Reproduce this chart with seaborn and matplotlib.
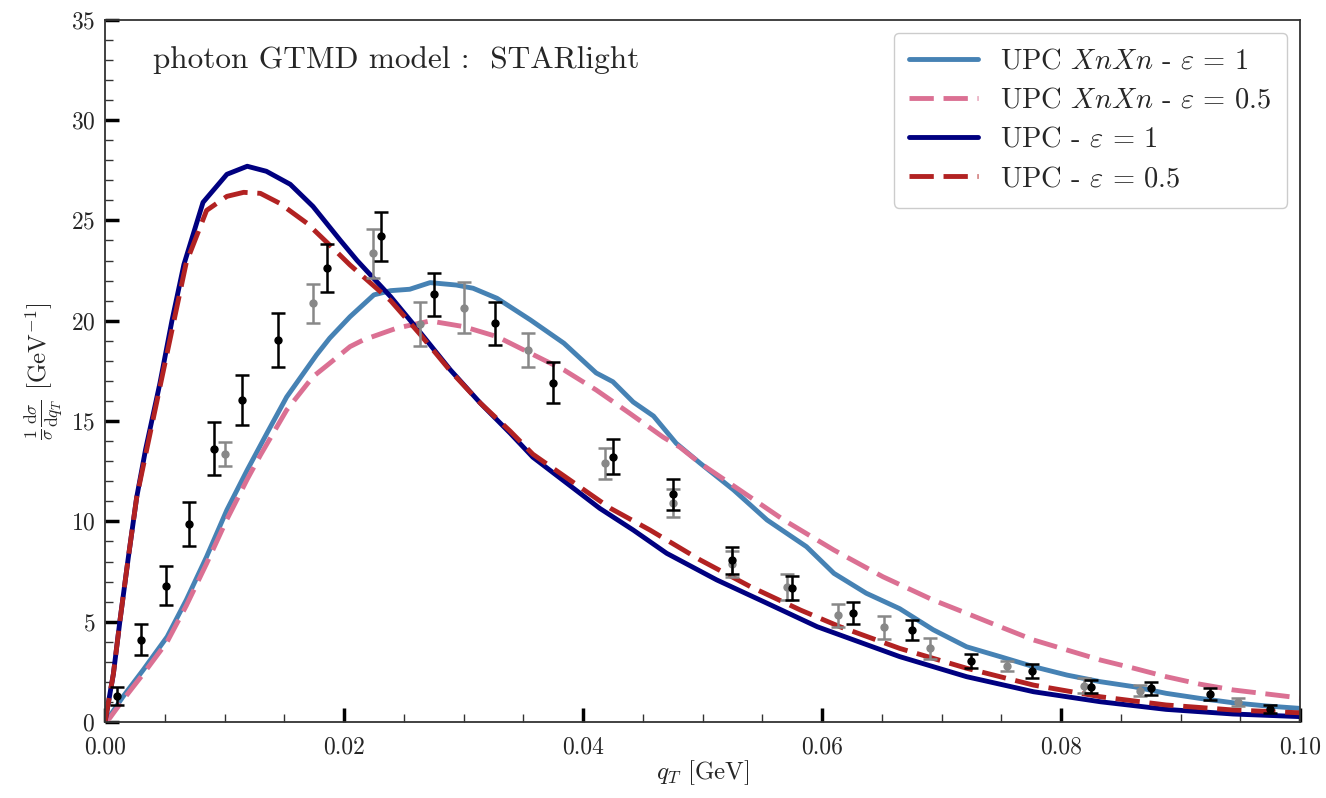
import numpy as np
import pandas as pd
import matplotlib
matplotlib.use("Agg")
import matplotlib.pyplot as plt
from matplotlib.ticker import MultipleLocator, FormatStrFormatter
import seaborn as sns

# ---- model curves (q_T in GeV, normalized cross section in GeV^-1) ----
upc_xnxn_e1_q = [0.0, 0.0004, 0.0015, 0.0032, 0.0052, 0.0068, 0.0085, 0.0102, 0.0119, 0.0127,
                 0.0136, 0.0152, 0.0177, 0.0188, 0.0205, 0.0225, 0.0239, 0.0255, 0.0272, 0.0294,
                 0.0308, 0.0328, 0.0356, 0.0384, 0.0411, 0.0425, 0.0442, 0.0459, 0.0478, 0.0498,
                 0.0526, 0.0554, 0.0587, 0.0610, 0.0637, 0.0665, 0.0693, 0.0721, 0.0749, 0.0777,
                 0.0805, 0.0833, 0.0861, 0.0888, 0.0916, 0.0944, 0.0972, 0.1000]
upc_xnxn_e1_v = [0.0, 0.3, 1.26, 2.6, 4.25, 6.08, 8.24, 10.57, 12.56, 13.45,
                 14.45, 16.2, 18.3, 19.13, 20.2, 21.29, 21.5, 21.57, 21.9, 21.78,
                 21.62, 21.12, 20.04, 18.88, 17.4, 16.96, 15.95, 15.25, 13.89, 12.9,
                 11.57, 10.07, 8.74, 7.41, 6.42, 5.65, 4.6, 3.75, 3.26, 2.76,
                 2.34, 2.01, 1.76, 1.43, 1.18, 0.96, 0.8, 0.68]

upc_xnxn_e05_q = [0.0, 0.0004, 0.0015, 0.0032, 0.0052, 0.0068, 0.0085, 0.0102, 0.0119, 0.0130,
                  0.0152, 0.0174, 0.0188, 0.0205, 0.0216, 0.0244, 0.0272, 0.0300, 0.0328, 0.0356,
                  0.0384, 0.0411, 0.0439, 0.0467, 0.0481, 0.0498, 0.0531, 0.0568, 0.0610, 0.0651,
                  0.0693, 0.0721, 0.0749, 0.0777, 0.0805, 0.0833, 0.0861, 0.0888, 0.0916, 0.0944,
                  0.0972, 0.1000]
upc_xnxn_e05_v = [0.0, 0.2, 1.1, 2.4, 4.0, 5.8, 7.9, 10.1, 12.1, 13.3,
                  15.55, 17.21, 17.88, 18.71, 19.04, 19.63, 19.99, 19.71, 19.21, 18.38,
                  17.55, 16.55, 15.39, 14.2, 13.7, 12.9, 11.57, 10.07, 8.57, 7.24,
                  6.08, 5.42, 4.75, 4.09, 3.59, 3.09, 2.68, 2.26, 1.89, 1.6,
                  1.4, 1.2]

upc_e1_q = [0.0, 0.0007, 0.00126, 0.00195, 0.00265, 0.0034, 0.0046, 0.0056, 0.0066, 0.0082,
            0.0102, 0.0119, 0.0135, 0.0155, 0.0174, 0.0197, 0.0211, 0.0239, 0.0264, 0.0289,
            0.0314, 0.0339, 0.0358, 0.0414, 0.0442, 0.0470, 0.0512, 0.0554, 0.0596, 0.0665,
            0.0721, 0.0777, 0.0833, 0.0888, 0.0944, 0.1000]
upc_e1_v = [0.0, 2.4, 5.1, 8.2, 11.2, 13.6, 16.9, 20.0, 22.8, 25.9,
            27.3, 27.7, 27.45, 26.8, 25.7, 24.0, 23.0, 21.2, 19.4, 17.55,
            15.9, 14.4, 13.2, 10.65, 9.57, 8.41, 7.08, 5.92, 4.75, 3.26,
            2.26, 1.51, 1.01, 0.63, 0.40, 0.27]

upc_e05_q = [0.0, 0.0007, 0.00126, 0.00195, 0.00265, 0.0036, 0.0052, 0.0068, 0.0085, 0.0102,
             0.0116, 0.0130, 0.0146, 0.0169, 0.0191, 0.0205, 0.0239, 0.0264, 0.0289, 0.0314,
             0.0339, 0.0358, 0.0423, 0.0456, 0.0498, 0.0540, 0.0582, 0.0615, 0.0665, 0.0721,
             0.0777, 0.0833, 0.0888, 0.0944, 0.1000]
upc_e05_v = [0.0, 2.4, 5.1, 8.2, 11.2, 13.9, 18.4, 22.9, 25.5, 26.2,
             26.4, 26.35, 25.86, 24.86, 23.6, 22.78, 21.0, 19.3, 17.5, 15.9,
             14.5, 13.35, 10.65, 9.57, 8.08, 6.75, 5.58, 4.75, 3.67, 2.68,
             1.84, 1.26, 0.85, 0.60, 0.46]

# ---- measured points (black and grey sets) ----
black_q = [0.0010, 0.0030, 0.0051, 0.0070, 0.0091, 0.0115, 0.0145, 0.0186, 0.0231, 0.0275,
           0.0326, 0.0375, 0.0425, 0.0475, 0.0525, 0.0575, 0.0626, 0.0675, 0.0725, 0.0776,
           0.0825, 0.0875, 0.0925, 0.0975]
black_v = [1.30, 4.11, 6.80, 9.86, 13.63, 16.07, 19.04, 22.63, 24.20, 21.32,
           19.88, 16.92, 13.22, 11.35, 8.06, 6.69, 5.42, 4.58, 3.03, 2.56,
           1.77, 1.69, 1.40, 0.67]
black_err = [0.47, 0.76, 0.97, 1.09, 1.33, 1.25, 1.33, 1.22, 1.20, 1.06,
             1.07, 1.00, 0.87, 0.77, 0.67, 0.61, 0.54, 0.49, 0.36, 0.35,
             0.32, 0.32, 0.28, 0.20]

grey_q = [0.0100, 0.0174, 0.0224, 0.0264, 0.0300, 0.0354, 0.0418, 0.0475, 0.0525, 0.0571,
          0.0613, 0.0652, 0.0690, 0.0755, 0.0819, 0.0866, 0.0948]
grey_v = [13.36, 20.87, 23.36, 19.84, 20.64, 18.54, 12.90, 10.90, 7.88, 6.74,
          5.32, 4.72, 3.67, 2.77, 1.81, 1.57, 1.01]
grey_err = [0.59, 0.96, 1.23, 1.09, 1.27, 0.86, 0.78, 0.70, 0.65, 0.64,
            0.58, 0.58, 0.53, 0.25, 0.36, 0.26, 0.19]

sns.set_theme(style="ticks")
plt.rcParams.update({
    "font.family": "serif",
    "font.serif": ["cmr10"],
    "mathtext.fontset": "cm",
    "axes.formatter.use_mathtext": True,
    "axes.unicode_minus": False,
})

fig = plt.figure(figsize=(13.26, 7.98), dpi=100)
ax = fig.add_axes([0.0792, 0.0952, 0.9012, 0.880])

curves = [
    (upc_xnxn_e1_q, upc_xnxn_e1_v, r"UPC $XnXn$ - $\varepsilon\,=\,1$", "#4682B4", None),
    (upc_xnxn_e05_q, upc_xnxn_e05_v, r"UPC $XnXn$ - $\varepsilon\,=\,0.5$", "#DB7093", (5, 2)),
    (upc_e1_q, upc_e1_v, r"UPC - $\varepsilon\,=\,1$", "#000080", None),
    (upc_e05_q, upc_e05_v, r"UPC - $\varepsilon\,=\,0.5$", "#B22222", (5, 2)),
]
for q, v, lab, col, dash in curves:
    df = pd.DataFrame({"qT": q, "val": v})
    line_kw = dict(lw=3.5)
    if dash is not None:
        line_kw["dashes"] = dash
    sns.lineplot(data=df, x="qT", y="val", ax=ax, color=col, label=lab, **line_kw)

ax.errorbar(grey_q, grey_v, yerr=grey_err, fmt="o", color="#888888", ms=5,
            elinewidth=1.8, capsize=5, capthick=1.8, zorder=4)
ax.errorbar(black_q, black_v, yerr=black_err, fmt="o", color="black", ms=5,
            elinewidth=1.8, capsize=5, capthick=1.8, zorder=5)

ax.set_xlim(0, 0.1)
ax.set_ylim(0, 35)
ax.xaxis.set_major_locator(MultipleLocator(0.02))
ax.xaxis.set_minor_locator(MultipleLocator(0.005))
ax.xaxis.set_major_formatter(FormatStrFormatter("%.2f"))
ax.yaxis.set_major_locator(MultipleLocator(5))
ax.yaxis.set_minor_locator(MultipleLocator(1))
ax.tick_params(which="both", bottom=True, left=True, top=False, right=False)
ax.tick_params(which="major", direction="in", length=10, width=2.5, labelsize=17,
               color="black")
ax.tick_params(axis="x", which="major", pad=10)
ax.tick_params(axis="y", which="major", pad=7)
ax.tick_params(which="minor", direction="in", length=6, width=1, color="#333333")

for s in ax.spines.values():
    s.set_linewidth(1.3)
    s.set_color("#333333")

ax.set_xlabel(r"$q_T$ [GeV]", fontsize=18, labelpad=0)
ax.set_ylabel(r"$\frac{1}{\sigma}\frac{\mathrm{d}\sigma}{\mathrm{d}q_T}$ [GeV$^{-1}$]",
              fontsize=18, labelpad=4)

ax.text(0.04, 0.943, "photon GTMD model :  STARlight", transform=ax.transAxes,
        fontsize=22.5, va="center", ha="left")

leg = ax.legend(loc="upper right", fontsize=20.5, handlelength=2.4, handletextpad=0.8,
                labelspacing=0.45, borderpad=0.55, frameon=True, fancybox=True,
                framealpha=1.0, edgecolor="#cccccc", borderaxespad=0.45)
leg.get_frame().set_linewidth(1.0)

fig.savefig("out.png", dpi=100)
